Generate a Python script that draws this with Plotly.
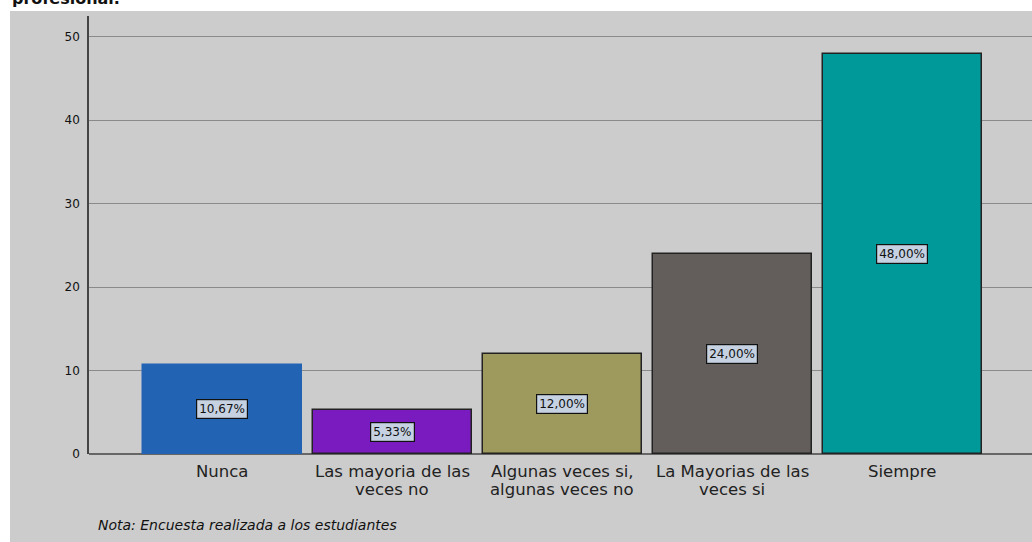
import plotly.graph_objects as go

categorias = ["Nunca", "Las mayoria de las<br>veces no", "Algunas veces si,<br>algunas veces no",
              "La Mayorias de las<br>veces si", "Siempre"]
porcentajes = [10.67, 5.33, 12.00, 24.00, 48.00]
etiquetas = ["10,67%", "5,33%", "12,00%", "24,00%", "48,00%"]
colores = ["#2263b3", "#7a1bbf", "#9e995c", "#635d5c", "#009999"]
bordes = ["#2263b3", "#222222", "#222222", "#222222", "#222222"]

FONT = "DejaVu Sans"
W, H = 1032, 542
L, R, T, B = 89, 0, 16, 88
pw, ph = W - L - R, H - T - B


def px_x(p):
    return (p - L) / pw


def px_y(p):
    return (H - B - p) / ph


fig = go.Figure()
fig.add_trace(go.Bar(x=list(range(len(categorias))), y=porcentajes,
                     marker=dict(color=colores, line=dict(color=bordes, width=1.5)),
                     width=0.93, hoverinfo='skip'))

for i, (v, t) in enumerate(zip(porcentajes, etiquetas)):
    fig.add_annotation(x=i, y=v / 2, text=t, showarrow=False,
                       font=dict(family=FONT, size=12, color="#111"),
                       bgcolor="#c6d2e2", bordercolor="#111", borderwidth=1.2, borderpad=2)

# etiquetas de categoria, linea por linea (interlineado ajustado)
for i, c in enumerate(categorias):
    for j, linea in enumerate(c.split("<br>")):
        fig.add_annotation(x=i, xref="x", yref="paper", y=px_y(471 + 18 * j),
                           yanchor="middle", text=linea, showarrow=False,
                           font=dict(family=FONT, size=16.5, color="#222"))

# fondo gris del grafico
fig.add_shape(type="rect", xref="paper", yref="paper",
              x0=px_x(10), x1=1.01, y0=px_y(545), y1=px_y(11),
              fillcolor="#cccccc", line=dict(width=0), layer="below")

fig.add_annotation(xref="paper", yref="paper", x=px_x(96), y=px_y(525),
                   xanchor="left", yanchor="middle", showarrow=False,
                   text="<i>Nota: Encuesta realizada a los estudiantes</i>",
                   font=dict(family=FONT, size=14, color="#111"))

fig.add_annotation(xref="paper", yref="paper", x=px_x(10), y=px_y(10),
                   xanchor="left", yanchor="bottom", showarrow=False,
                   text="<b>profesional.</b>",
                   font=dict(family=FONT, size=16, color="#111"))

fig.update_xaxes(range=[-0.785, 4.762], showticklabels=False,
                 showgrid=False, showline=False, ticks="", zeroline=False)
fig.update_yaxes(range=[0, 52.5], tickvals=[0, 10, 20, 30, 40, 50],
                 tickfont=dict(family=FONT, size=12, color="#111"),
                 showgrid=True, gridcolor="#8a8a8a", gridwidth=1,
                 showline=True, linecolor="#444", linewidth=1.5,
                 zeroline=True, zerolinecolor="#666", zerolinewidth=2,
                 ticks="", ticklabelstandoff=5)

fig.update_layout(width=W, height=H, margin=dict(l=L, r=R, t=T, b=B),
                  plot_bgcolor="#cccccc", paper_bgcolor="white",
                  showlegend=False, bargap=0)

fig.write_html("out.html", config={"displayModeBar": False},
               post_script="document.body.style.margin='0';")
